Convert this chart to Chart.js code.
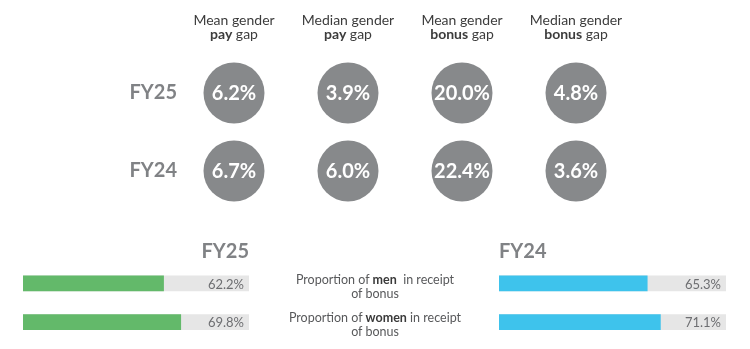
<!DOCTYPE html>
<html>
<head>
<meta charset="utf-8">
<script src="https://cdn.jsdelivr.net/npm/chart.js@4.4.1/dist/chart.umd.min.js"></script>
<style>
  html, body { margin: 0; padding: 0; background: #fff; }
  body { width: 750px; height: 349px; position: relative; overflow: hidden; font-family: Lato, sans-serif; }
  .box { position: absolute; }
  .mid { position: absolute; left: 250px; width: 250px; text-align: center; font-size: 12.5px; line-height: 14px; color: #58595b; }
  .mid b { color: #3a3a3a; }
</style>
</head>
<body>
<div class="box" style="left:0;top:0;width:750px;height:250px"><canvas id="gapChart"></canvas></div>
<div class="box" style="left:0;top:230px;width:375px;height:119px"><canvas id="fy25Bars"></canvas></div>
<div class="box" style="left:375px;top:230px;width:375px;height:119px"><canvas id="fy24Bars"></canvas></div>
<div class="mid" style="top:273px">Proportion of <b>men</b>&nbsp; in receipt<br>of bonus</div>
<div class="mid" style="top:311px">Proportion of <b>women</b> in receipt<br>of bonus</div>
<script>
// data
const years = ['FY25', 'FY24'];
const gapTitles = ['Mean gender', 'Median gender', 'Mean gender', 'Median gender'];
const gapBold = ['pay', 'pay', 'bonus', 'bonus'];
const fy25Gaps = [6.2, 3.9, 20.0, 4.8];
const fy24Gaps = [6.7, 6.0, 22.4, 3.6];
const bonusLabels = ['men', 'women'];
const fy25Bonus = [62.2, 69.8];
const fy24Bonus = [65.3, 71.1];
const fullScale = [100, 100];

const GREY = '#808285';

// white % text inside the circles
const circleText = {
  id: 'circleText',
  afterDatasetsDraw(chart) {
    const ctx = chart.ctx;
    ctx.save();
    ctx.font = 'bold 20px Lato';
    ctx.fillStyle = '#fff';
    ctx.textAlign = 'center';
    ctx.textBaseline = 'middle';
    chart.data.datasets.forEach((ds, di) => {
      chart.getDatasetMeta(di).data.forEach((el, i) => {
        ctx.fillText(ds.data[i].v.toFixed(1) + '%', el.x, el.y + 1);
      });
    });
    ctx.restore();
  }
};

// two line column headers, second line part bold
const gapHeaders = {
  id: 'gapHeaders',
  afterDraw(chart) {
    const ctx = chart.ctx;
    const xs = chart.scales.x;
    ctx.save();
    ctx.fillStyle = '#3c3c3c';
    ctx.textBaseline = 'middle';
    gapTitles.forEach((t, i) => {
      const x = xs.getPixelForValue(i);
      ctx.font = '14px Lato';
      ctx.textAlign = 'center';
      ctx.fillText(t, x, 20);
      ctx.font = 'bold 14px Lato';
      const bw = ctx.measureText(gapBold[i]).width;
      ctx.font = '14px Lato';
      const rw = ctx.measureText(' gap').width;
      const start = x - (bw + rw) / 2;
      ctx.textAlign = 'left';
      ctx.font = 'bold 14px Lato';
      ctx.fillText(gapBold[i], start, 34);
      ctx.font = '14px Lato';
      ctx.fillText(' gap', start + bw, 34);
    });
    ctx.restore();
  }
};

new Chart(document.getElementById('gapChart'), {
  type: 'bubble',
  data: {
    datasets: [
      { label: 'FY25', data: fy25Gaps.map((v, i) => ({ x: i, y: 'FY25', r: 30.5, v: v })) },
      { label: 'FY24', data: fy24Gaps.map((v, i) => ({ x: i, y: 'FY24', r: 30.5, v: v })) }
    ]
  },
  options: {
    responsive: true,
    maintainAspectRatio: false,
    animation: false,
    layout: { padding: { left: 0, right: 117, top: 54, bottom: 40 } },
    elements: { point: { backgroundColor: '#87898b', borderWidth: 0, hoverRadius: 0 } },
    plugins: { legend: { display: false }, tooltip: { enabled: false } },
    scales: {
      x: { type: 'linear', min: -0.5, max: 3.5, display: false },
      y: {
        type: 'category',
        labels: years,
        offset: true,
        border: { display: false },
        grid: { display: false, drawTicks: false },
        ticks: { padding: 0, color: GREY, font: { family: 'Lato', weight: 'bold', size: 20 } },
        afterFit(scale) { scale.width = 177; }
      }
    }
  },
  plugins: [circleText, gapHeaders]
});

// percentage text at the right end of each track
const barText = {
  id: 'barText',
  afterDatasetsDraw(chart) {
    const ctx = chart.ctx;
    const end = chart.scales.x.getPixelForValue(100);
    ctx.save();
    ctx.font = '13px Lato';
    ctx.fillStyle = '#6d6e71';
    ctx.textAlign = 'right';
    ctx.textBaseline = 'middle';
    chart.getDatasetMeta(0).data.forEach((el, i) => {
      ctx.fillText(chart.data.datasets[0].data[i].toFixed(1) + '%', end - 5, el.y + 1);
    });
    ctx.restore();
  }
};

function makeBars(id, title, values, color, align, pad) {
  return new Chart(document.getElementById(id), {
    type: 'bar',
    data: {
      labels: bonusLabels,
      datasets: [
        { data: values, backgroundColor: color, barThickness: 15, grouped: false, order: 0 },
        { data: fullScale, backgroundColor: '#e6e6e6', barThickness: 15, grouped: false, order: 1 }
      ]
    },
    options: {
      indexAxis: 'y',
      responsive: true,
      maintainAspectRatio: false,
      animation: false,
      layout: { padding: pad },
      plugins: {
        legend: { display: false },
        tooltip: { enabled: false },
        title: {
          display: true,
          text: title,
          align: align,
          color: GREY,
          font: { family: 'Lato', weight: 'bold', size: 20 },
          padding: { top: 10, bottom: 0 }
        }
      },
      scales: {
        x: { min: 0, max: 100, display: false },
        y: { display: false, offset: true }
      }
    },
    plugins: [barText]
  });
}

makeBars('fy25Bars', 'FY25', fy25Bonus, '#63b96a', 'end', { left: 23, right: 126, top: 0, bottom: 7.5 });
makeBars('fy24Bars', 'FY24', fy24Bonus, '#3ec3ec', 'start', { left: 124, right: 24, top: 0, bottom: 7.5 });
</script>
</body>
</html>
